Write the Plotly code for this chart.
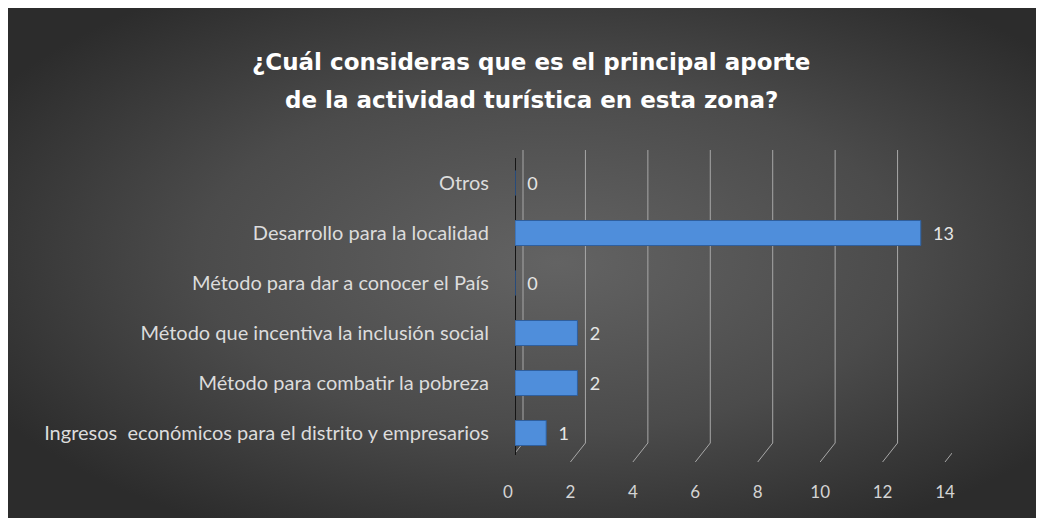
import base64
import plotly.graph_objects as go

# ---- data ----
categories = [
    "Ingresos  económicos para el distrito y empresarios",
    "Método para combatir la pobreza",
    "Método que incentiva la inclusión social",
    "Método para dar a conocer el País",
    "Desarrollo para la localidad",
    "Otros",
]
values = [1, 2, 2, 0, 13, 0]
tick_values = [0, 2, 4, 6, 8, 10, 12, 14]
title_lines = ["¿Cuál consideras que es el principal aporte",
               "de la actividad turística en esta zona?"]

OFF = 8  # page body margin
W, H = 1044 - OFF, 518 - OFF
L, T = 515 - OFF, 158 - OFF
R = W - (952 - OFF)
B = H - (458 - OFF)
pw, ph = W - L - R, H - T - B

def px_x(p):
    return (p - OFF - L) / pw

def px_y(p):
    return (H - B - (p - OFF)) / ph

# background gradient (decoration)
svg = """<svg xmlns='http://www.w3.org/2000/svg' width='1036' height='510' preserveAspectRatio='none'>
<defs><radialGradient id='g' cx='0.52' cy='0.48' r='0.62' fx='0.53' fy='0.5'>
<stop offset='0' stop-color='#636363'/><stop offset='0.55' stop-color='#4b4b4b'/>
<stop offset='1' stop-color='#2c2c2c'/></radialGradient></defs>
<rect width='1036' height='510' fill='url(#g)'/></svg>"""
src = "data:image/svg+xml;base64," + base64.b64encode(svg.encode()).decode()

fig = go.Figure()
fig.add_trace(go.Bar(
    y=categories, x=values, orientation="h",
    marker=dict(color="#4f8edb", line=dict(color="#2f5f9e", width=1)),
    width=0.5,
    text=[str(v) for v in values], textposition="outside",
    texttemplate="\u00a0\u00a0%{text}",
    textfont=dict(family="Lato", size=18, color="#e6e6e6"),
    cliponaxis=False,
))

shapes = []
for v in tick_values:
    shapes.append(dict(type="line", xref="x", xsizemode="pixel", xanchor=v,
                       x0=8, x1=8, yref="paper", y0=px_y(443), y1=px_y(150),
                       line=dict(color="#a8a8a8", width=1), layer="below"))
    shapes.append(dict(type="line", xref="x", xsizemode="pixel", xanchor=v,
                       x0=8, x1=-7, yref="paper", y0=px_y(443), y1=px_y(462),
                       line=dict(color="#a8a8a8", width=1), layer="below"))
shapes.append(dict(type="line", xref="x", xsizemode="pixel", xanchor=0,
                   x0=-1, x1=-1, yref="paper", y0=px_y(455), y1=px_y(158),
                   line=dict(color="#151515", width=4), layer="below"))

title_font = dict(family="DejaVu Sans", size=23, color="#ffffff", weight="bold")
annotations = [
    dict(text=title_lines[0], xref="paper", yref="paper", x=px_x(531), y=px_y(62),
         showarrow=False, xanchor="center", yanchor="middle", font=title_font),
    dict(text=title_lines[1], xref="paper", yref="paper", x=px_x(531), y=px_y(100),
         showarrow=False, xanchor="center", yanchor="middle", font=title_font),
]

fig.update_layout(
    width=W, height=H,
    margin=dict(l=L, r=R, t=T, b=B, autoexpand=False),
    paper_bgcolor="#3a3a3a",
    plot_bgcolor="rgba(0,0,0,0)",
    showlegend=False,
    shapes=shapes,
    annotations=annotations,
    images=[dict(source=src, xref="paper", yref="paper",
                 x=-L / pw, y=1 + T / ph, sizex=W / pw, sizey=H / ph,
                 xanchor="left", yanchor="top", sizing="stretch", layer="below")],
    xaxis=dict(range=[0, 14], tickvals=tick_values, showgrid=False, zeroline=False,
               showline=False, ticks="", ticklabelstandoff=22, ticklabelshift=-7,
               tickfont=dict(family="Lato", size=17, color="#d4d4d4")),
    yaxis=dict(range=[-0.5, 5.5], showgrid=False, zeroline=False, showline=False,
               ticks="", ticklabelstandoff=25,
               tickfont=dict(family="Lato", size=20, color="#dcdcdc")),
)

fig.write_html("out.html")
